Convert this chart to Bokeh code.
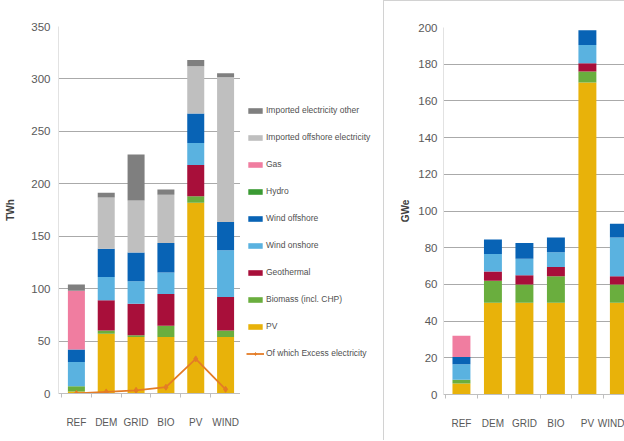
from bokeh.plotting import figure
from bokeh.models import ColumnDataSource, Legend, LegendItem, Range1d, FixedTicker
from bokeh.layouts import row
from bokeh.embed import file_html
from bokeh.resources import INLINE

scenarios = ["REF", "DEM", "GRID", "BIO", "PV", "WIND"]

# Left panel: electricity production, TWh
twh_pv = [2, 57, 54, 54, 182, 54]
twh_biomass = [5, 3, 1.5, 10.5, 6, 6]
twh_geothermal = [0, 29, 30, 30.5, 30, 32]
twh_wind_onshore = [23, 22, 21.5, 20.5, 21, 44.5]
twh_wind_offshore = [12, 27, 27.5, 28, 28, 27]
twh_hydro = [0, 0, 0, 0, 0, 0]
twh_gas = [56, 0, 0, 0, 0, 0]
twh_imported_offshore = [0, 49, 49.5, 46, 45, 138]
twh_imported_other = [6, 4.5, 44, 5, 6, 4]
twh_excess = [0, 1.5, 3, 6, 33, 4]

# Right panel: installed capacity, GWe
gw_pv = [6, 50, 50, 50, 170, 50]
gw_biomass = [2, 12, 10, 14.5, 6, 10]
gw_geothermal = [0, 5, 5, 5, 4.5, 4.5]
gw_wind_onshore = [8.5, 9.5, 9, 8, 10, 21]
gw_wind_offshore = [4, 8, 8.5, 8, 8, 7.5]
gw_gas = [11.5, 0, 0, 0, 0, 0]

twh_ticks = [0, 50, 100, 150, 200, 250, 300, 350]
gw_ticks = [0, 20, 40, 60, 80, 100, 120, 140, 160, 180, 200]

C = {
    "PV": "#e8b20a",
    "Biomass (incl. CHP)": "#6aae3e",
    "Geothermal": "#a80f3a",
    "Wind onshore": "#5ab2e0",
    "Wind offshore": "#0863b5",
    "Hydro": "#3a9a33",
    "Gas": "#f07da0",
    "Imported offshore electricity": "#bfbfbf",
    "Imported electricity other": "#7f7f7f",
    "Of which Excess electricity": "#e47c26",
}

FONT = "Liberation Sans"
xs = list(range(len(scenarios)))
labels = {i: s for i, s in enumerate(scenarios)}
bounds = [i - 0.5 for i in xs] + [xs[-1] + 0.5]
H = 440


def style(p, ticks, ylabel, label_standoff, tick_standoff):
    p.xgrid.visible = False
    p.ygrid.grid_line_color = "#aaaaaa"
    p.ygrid.grid_line_width = 1
    p.outline_line_color = None
    p.yaxis.ticker = FixedTicker(ticks=ticks)
    p.xaxis.ticker = FixedTicker(ticks=xs, minor_ticks=bounds)
    p.xaxis.major_label_overrides = labels
    for ax in (p.xaxis[0], p.yaxis[0]):
        ax.major_label_text_font = FONT
        ax.major_label_text_color = "#595959"
        ax.major_tick_line_color = None
    p.yaxis.major_tick_out = 0
    p.yaxis.major_tick_in = 0
    p.yaxis.minor_tick_line_color = None
    p.yaxis.minor_tick_out = 0
    p.yaxis.minor_tick_in = 0
    p.xaxis.minor_tick_line_color = "#bfbfbf"
    p.xaxis.minor_tick_in = 0
    p.xaxis.minor_tick_out = 4
    p.xaxis.major_label_text_font_size = "10px"
    p.yaxis.major_label_text_font_size = "11.5px"
    p.xaxis.axis_line_color = "#bfbfbf"
    p.yaxis.axis_line_color = "#e2e2e2"
    p.xaxis.major_label_standoff = 17
    p.yaxis.major_label_standoff = tick_standoff
    p.yaxis.axis_label = ylabel
    p.yaxis.axis_label_text_font = FONT
    p.yaxis.axis_label_text_font_size = "10px"
    p.yaxis.axis_label_text_font_style = "bold"
    p.yaxis.axis_label_text_color = "#404040"
    p.yaxis.axis_label_standoff = label_standoff


# ---------- left figure (TWh) ----------
left_names = ["PV", "Biomass (incl. CHP)", "Geothermal", "Wind onshore", "Wind offshore",
              "Hydro", "Gas", "Imported offshore electricity", "Imported electricity other"]
left_vals = [twh_pv, twh_biomass, twh_geothermal, twh_wind_onshore, twh_wind_offshore,
             twh_hydro, twh_gas, twh_imported_offshore, twh_imported_other]
src_l = ColumnDataSource(dict(x=xs, **{n: v for n, v in zip(left_names, left_vals)}))
src_e = ColumnDataSource(dict(x=xs, y=twh_excess))
ex_col = C["Of which Excess electricity"]

p1 = figure(width=240, height=H, output_backend="svg", toolbar_location=None,
            x_range=Range1d(-0.6, 5.5), y_range=Range1d(0, 350),
            min_border_left=58, min_border_right=0, min_border_top=26, min_border_bottom=47)
style(p1, twh_ticks, "TWh", 12, 8)
p1.vbar_stack(left_names, x="x", width=0.57, color=[C[n] for n in left_names],
              line_color=None, source=src_l)
p1.line("x", "y", source=src_e, line_color=ex_col, line_width=1.8)
p1.scatter("x", "y", source=src_e, marker="diamond", size=6, color=ex_col)

# ---------- legend panel (hidden copies of the series; only the legend shows) ----------
pL = figure(width=143, height=H, output_backend="svg", toolbar_location=None,
            x_axis_type=None, y_axis_type=None,
            x_range=Range1d(-0.6, 5.5), y_range=Range1d(0, 350),
            min_border_left=0, min_border_right=0, min_border_top=0, min_border_bottom=0)
pL.grid.visible = False
pL.outline_line_color = None
lr = pL.vbar_stack(left_names, x="x", width=0.57, color=[C[n] for n in left_names],
                   line_color=None, source=src_l)
lmap = dict(zip(left_names, lr))
ex_line = pL.line("x", "y", source=src_e, line_color=ex_col, line_width=1.8)
ex_mark = pL.scatter("x", "y", source=src_e, marker="diamond", size=6, color=ex_col)
for r in list(lr) + [ex_line, ex_mark]:
    r.visible = False
legend_order = ["Imported electricity other", "Imported offshore electricity", "Gas", "Hydro",
                "Wind offshore", "Wind onshore", "Geothermal", "Biomass (incl. CHP)", "PV"]
items = [LegendItem(label=n, renderers=[lmap[n]]) for n in legend_order]
items.append(LegendItem(label="Of which Excess electricity", renderers=[ex_line, ex_mark]))
leg = Legend(items=items, location=(6, 35), glyph_width=18, glyph_height=7,
             label_height=7, label_standoff=2, spacing=17, padding=4, margin=0,
             label_text_font=FONT, label_text_font_size="8.5px", label_text_color="#505050",
             border_line_color=None, background_fill_alpha=0)
pL.add_layout(leg)

# ---------- right figure (GWe) ----------
right_names = ["PV", "Biomass (incl. CHP)", "Geothermal", "Wind onshore", "Wind offshore", "Gas"]
right_vals = [gw_pv, gw_biomass, gw_geothermal, gw_wind_onshore, gw_wind_offshore, gw_gas]
src_r = ColumnDataSource(dict(x=xs, **{n: v for n, v in zip(right_names, right_vals)}))

p2 = figure(width=241, height=H, output_backend="svg", toolbar_location=None,
            x_range=Range1d(-0.57, 5.21), y_range=Range1d(0, 200),
            min_border_left=59, min_border_right=0, min_border_top=26, min_border_bottom=46)
style(p2, gw_ticks, "GWe", 4, 6)
p2.vbar_stack(right_names, x="x", width=0.57, color=[C[n] for n in right_names],
              line_color=None, source=src_r)
p2.styles = {"border-left": "1px solid #d2d2d2", "border-top": "1px solid #d2d2d2",
             "box-sizing": "border-box"}

layout = row(p1, pL, p2, spacing=0)
open("out.html", "w").write(file_html(layout, INLINE))
